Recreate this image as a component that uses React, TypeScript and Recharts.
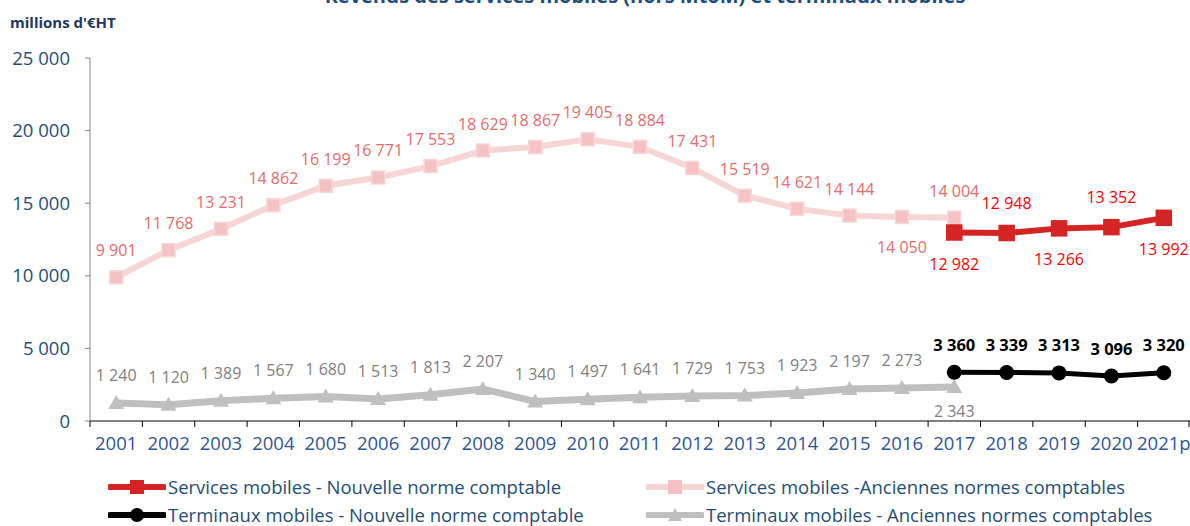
import React from "react";
import { LineChart, Line, XAxis, YAxis, Legend, LabelList } from "recharts";

const years = [
  "2001", "2002", "2003", "2004", "2005", "2006", "2007", "2008", "2009", "2010", "2011",
  "2012", "2013", "2014", "2015", "2016", "2017", "2018", "2019", "2020", "2021p",
];
const servicesOld = [
  9901, 11768, 13231, 14862, 16199, 16771, 17553, 18629, 18867, 19405, 18884,
  17431, 15519, 14621, 14144, 14050, 14004, null, null, null, null,
];
const servicesNew = [
  null, null, null, null, null, null, null, null, null, null, null,
  null, null, null, null, null, 12982, 12948, 13266, 13352, 13992,
];
const terminalsOld = [
  1240, 1120, 1389, 1567, 1680, 1513, 1813, 2207, 1340, 1497, 1641,
  1729, 1753, 1923, 2197, 2273, 2343, null, null, null, null,
];
const terminalsNew = [
  null, null, null, null, null, null, null, null, null, null, null,
  null, null, null, null, null, 3360, 3339, 3313, 3096, 3320,
];
const yTicks = [0, 5000, 10000, 15000, 20000, 25000];

const data = years.map((year, i) => ({
  year,
  servicesOld: servicesOld[i],
  servicesNew: servicesNew[i],
  terminalsOld: terminalsOld[i],
  terminalsNew: terminalsNew[i],
}));

const W = 1190;
const H = 526;
const Y_AXIS_W = 90;
const BAND = (W - Y_AXIS_W) / years.length;
const FONT = "'Open Sans', sans-serif";

const fmt = (v: number) => String(v).replace(/\B(?=(\d{3})+(?!\d))/g, " ");

// which points put their label under the marker
const belowServicesOld = [15];
const belowServicesNew = [16, 18, 20];
const belowTerminalsOld = [16];

function makeLabel(color: string, below: number[], up: number, down: number, bold = false) {
  return function PointLabel(props: any) {
    const { x, y, value, index } = props;
    if (value == null || x == null) return null;
    const under = below.includes(index);
    return (
      <text
        x={x}
        y={under ? y + down : y - up}
        textAnchor="middle"
        dominantBaseline="central"
        fill={color}
        fontSize={bold ? 16.5 : 16}
        fontWeight={bold ? 700 : 400}
        fontFamily={FONT}
      >
        {fmt(value)}
      </text>
    );
  };
}

function SquareDot(size: number, fill: string, stroke: string) {
  return function Dot(props: any) {
    const { cx, cy, value, index } = props;
    if (value == null || cx == null) return <g key={index} />;
    return (
      <rect key={index} x={cx - size / 2} y={cy - size / 2} width={size} height={size} fill={fill} stroke={stroke} strokeWidth={1.5} />
    );
  };
}

function CircleDot(props: any) {
  const { cx, cy, value, index } = props;
  if (value == null || cx == null) return <g key={index} />;
  return <circle key={index} cx={cx} cy={cy} r={7.5} fill="#000" />;
}

function TriangleDot(props: any) {
  const { cx, cy, value, index } = props;
  if (value == null || cx == null) return <g key={index} />;
  return <polygon key={index} points={`${cx},${cy - 8} ${cx - 8},${cy + 6} ${cx + 8},${cy + 6}`} fill="#BFBFBF" />;
}

function XTick(props: any) {
  const { x, y, payload, index } = props;
  const last = index === years.length - 1;
  return (
    <g>
      <line x1={x - BAND / 2} y1={y} x2={x - BAND / 2} y2={y + 6} stroke="#000" />
      {last && <line x1={x + BAND / 2 - 1} y1={y} x2={x + BAND / 2 - 1} y2={y + 6} stroke="#000" />}
      <text x={x} y={y + 21} textAnchor="middle" dominantBaseline="central" fill="#2F5597" fontSize={18.5} fontFamily={FONT}>
        {payload.value}
      </text>
    </g>
  );
}

const legendItems = [
  { label: "Services mobiles - Nouvelle norme comptable", color: "#D42424", mark: "square", markColor: "#D42424" },
  { label: "Services mobiles -Anciennes normes comptables", color: "#F8D5D5", mark: "square", markColor: "#F4C2C2" },
  { label: "Terminaux mobiles - Nouvelle norme comptable", color: "#000000", mark: "circle", markColor: "#000000" },
  { label: "Terminaux mobiles - Anciennes normes comptables", color: "#BFBFBF", mark: "triangle", markColor: "#BFBFBF" },
];

function LegendIcon({ color, mark, markColor }: { color: string; mark: string; markColor: string }) {
  return (
    <svg width={58} height={16} style={{ display: "block" }}>
      <line x1={2} y1={8} x2={56} y2={8} stroke={color} strokeWidth={6} strokeLinecap="round" />
      {mark === "square" && <rect x={22} y={1} width={14} height={14} fill={markColor} />}
      {mark === "circle" && <circle cx={29} cy={8} r={7} fill={markColor} />}
      {mark === "triangle" && <polygon points="29,1 22,14 36,14" fill={markColor} />}
    </svg>
  );
}

// zero-height box so the legend does not take room from the plot
function LegendContent() {
  return (
    <div style={{ position: "relative", width: W, height: 0 }}>
      {legendItems.map((it, i) => (
        <div
          key={it.label}
          style={{
            position: "absolute",
            left: i % 2 === 0 ? 108 : 646,
            top: i < 2 ? 5 : 33,
            display: "flex",
            alignItems: "center",
            gap: 2,
            fontFamily: FONT,
            fontSize: 18.5,
            color: "#1F4E79",
            whiteSpace: "nowrap",
            lineHeight: "24px",
          }}
        >
          <LegendIcon color={it.color} mark={it.mark} markColor={it.markColor} />
          <span>{it.label}</span>
        </div>
      ))}
    </div>
  );
}

export default function App() {
  return (
    <div style={{ position: "absolute", left: 0, top: 0, width: W, height: H, background: "#fff", overflow: "hidden" }}>
      <div
        style={{
          position: "absolute",
          left: 0,
          width: W,
          top: -18,
          textAlign: "center",
          paddingLeft: 100,
          boxSizing: "border-box",
          fontFamily: FONT,
          fontWeight: 700,
          fontSize: 20,
          color: "#1F4E79",
          lineHeight: "27px",
        }}
      >
        Revenus des services mobiles (hors MtoM) et terminaux mobiles
      </div>
      <div
        style={{
          position: "absolute",
          left: 10,
          top: 11,
          fontFamily: FONT,
          fontWeight: 700,
          fontSize: 15,
          color: "#1F3864",
          lineHeight: "22px",
        }}
      >
        millions d'€HT
      </div>
      <LineChart width={W} height={H} data={data} margin={{ top: 58, right: 0, left: 0, bottom: 65 }}>
        <XAxis
          dataKey="year"
          scale="band"
          axisLine={{ stroke: "#000" }}
          tickLine={false}
          tickSize={0}
          tickMargin={0}
          interval={0}
          height={40}
          tick={<XTick />}
        />
        <YAxis
          domain={[0, 25000]}
          ticks={yTicks}
          width={Y_AXIS_W}
          axisLine={{ stroke: "#868686" }}
          tickLine={{ stroke: "#868686" }}
          tickSize={5}
          tickMargin={15}
          tickFormatter={fmt}
          tick={{ fill: "#1F4E79", fontSize: 18.5, fontFamily: FONT }}
        />
        <Legend
          verticalAlign="bottom"
          wrapperStyle={{ position: "absolute", left: 0, top: 470, width: W, height: 0 }}
          content={<LegendContent />}
        />
        <Line
          dataKey="servicesOld"
          stroke="#F8D5D5"
          strokeWidth={6}
          dot={SquareDot(13, "#F4C2C2", "#F9D6D6")}
          activeDot={false}
          isAnimationActive={false}
        >
          <LabelList dataKey="servicesOld" content={makeLabel("#E86B6B", belowServicesOld, 27, 30)} />
        </Line>
        <Line
          dataKey="terminalsOld"
          stroke="#BFBFBF"
          strokeWidth={7}
          dot={TriangleDot}
          activeDot={false}
          isAnimationActive={false}
        >
          <LabelList dataKey="terminalsOld" content={makeLabel("#808080", belowTerminalsOld, 28, 24)} />
        </Line>
        <Line
          dataKey="servicesNew"
          stroke="#D42424"
          strokeWidth={6}
          dot={SquareDot(15, "#D42424", "#D42424")}
          activeDot={false}
          isAnimationActive={false}
        >
          <LabelList dataKey="servicesNew" content={makeLabel("#FF0000", belowServicesNew, 30, 31)} />
        </Line>
        <Line
          dataKey="terminalsNew"
          stroke="#000000"
          strokeWidth={5}
          dot={CircleDot}
          activeDot={false}
          isAnimationActive={false}
        >
          <LabelList dataKey="terminalsNew" content={makeLabel("#000000", [], 28, 28, true)} />
        </Line>
      </LineChart>
    </div>
  );
}
